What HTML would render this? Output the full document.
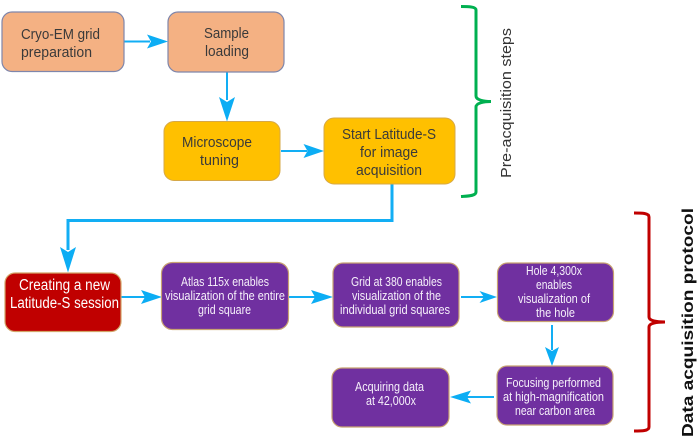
<!DOCTYPE html>
<html>
<head>
<meta charset="utf-8">
<style>
html,body{margin:0;padding:0;background:#fff;width:700px;height:443px;overflow:hidden}
svg{display:block}
text{font-family:"Liberation Sans",sans-serif;font-size:13px;text-anchor:start}
.d{fill:#3a3a3a;font-size:15px}
.w{fill:#f6f0fa;font-size:12.5px}
.l{fill:none;stroke:#12aef4;stroke-width:2}
.h{fill:#0cadf4;stroke:none}
.o{fill:#f4b183;stroke:#7f86ab;stroke-width:1.2}
.a{fill:#ffc000;stroke:#d6a848;stroke-width:1}
.p{fill:#7030a0;stroke:#c8a272;stroke-width:1.2}
</style>
</head>
<body>
<svg width="700" height="443" viewBox="0 0 700 443" xmlns="http://www.w3.org/2000/svg">
<g style="filter:blur(0.35px)">
<!-- connectors -->
<path class="l" d="M124 41.5H150"/>
<path class="h" d="M168 41.5L147 34.500L151 41.5L147 48.500Z"/>
<path class="l" d="M227 72V100"/>
<path class="h" d="M227 121.500L219 97L227 102L235 97Z"/>
<path class="l" d="M281 151H307"/>
<path class="h" d="M324 151L303.500 144L307.500 151L303.500 158Z"/>
<path class="l" style="stroke-width:3" d="M392 184V220.500H68V250"/>
<path class="h" d="M68 272.500L60 247L68 252L76 247Z"/>
<path class="l" d="M118 297H145"/>
<path class="h" d="M162 297L141 290L145 297L141 304Z"/>
<path class="l" d="M289 297H315"/>
<path class="h" d="M333 297L311 290L315 297L311 304Z"/>
<path class="l" d="M461 297H484"/>
<path class="h" d="M497 297L479.500 291L484 297L479.500 303Z"/>
<path class="l" d="M552 325V350"/>
<path class="h" d="M552 366L545 347L552 351L559 347Z"/>
<path class="l" d="M494 397H466"/>
<path class="h" d="M450 397L471 390.500L467 397L471 403.500Z"/>

<!-- boxes -->
<rect class="o" x="2" y="12" width="122" height="59.500" rx="10"/>
<rect class="o" x="168" y="12" width="116" height="60" rx="10"/>
<rect class="a" x="164" y="121.500" width="116" height="59" rx="10"/>
<rect class="a" x="324" y="118" width="131" height="66" rx="10"/>
<rect x="5" y="273" width="116" height="58.500" rx="10" fill="#c00000" stroke="#d2a468" stroke-width="1.2"/>
<rect class="p" x="161.500" y="262.500" width="127" height="67" rx="11"/>
<rect class="p" x="333" y="263" width="126" height="64" rx="10"/>
<rect class="p" x="497.500" y="263" width="116" height="58.500" rx="10"/>
<rect class="p" x="497" y="366" width="116" height="59" rx="10"/>
<rect class="p" x="332" y="368" width="117" height="59" rx="10"/>

<!-- braces -->
<path fill="none" stroke="#00b050" stroke-width="3" d="M461 6.500C468 6.500 476 6.500 476 10V96C476 100 484 101.500 491 101.500C484 101.500 476 103 476 107V192C476 196 468 196 461 196.500"/>
<path fill="none" stroke="#c00000" stroke-width="3" d="M634 213C642 213 649 213 649 217V317C649 321 657 322 665 322C657 322 649 323 649 327V427C649 431 642 431 634 431"/>

<!-- labels -->
<text class="d" x="21" y="39" textLength="79" lengthAdjust="spacingAndGlyphs">Cryo-EM grid</text>
<text class="d" x="21" y="57" textLength="71" lengthAdjust="spacingAndGlyphs">preparation</text>
<text class="d" x="204" y="38" textLength="45" lengthAdjust="spacingAndGlyphs">Sample</text>
<text class="d" x="205" y="56" textLength="44" lengthAdjust="spacingAndGlyphs">loading</text>
<text class="d" x="182" y="147" textLength="70" lengthAdjust="spacingAndGlyphs">Microscope</text>
<text class="d" x="200" y="165" textLength="39" lengthAdjust="spacingAndGlyphs">tuning</text>
<text class="d" x="342" y="139" textLength="94" lengthAdjust="spacingAndGlyphs">Start Latitude-S</text>
<text class="d" x="360" y="157" textLength="58" lengthAdjust="spacingAndGlyphs">for image</text>
<text class="d" x="356" y="175" textLength="66" lengthAdjust="spacingAndGlyphs">acquisition</text>

<text x="19" y="290" fill="#fff" style="font-size:15.500px" textLength="91" lengthAdjust="spacingAndGlyphs">Creating a new</text>
<text x="10" y="308" fill="#fff" style="font-size:15.500px" textLength="109" lengthAdjust="spacingAndGlyphs">Latitude-S session</text>

<text class="w" x="181" y="286" textLength="88" lengthAdjust="spacingAndGlyphs">Atlas 115x enables</text>
<text class="w" x="165" y="300" textLength="120" lengthAdjust="spacingAndGlyphs">visualization of the entire</text>
<text class="w" x="198" y="314" textLength="53" lengthAdjust="spacingAndGlyphs">grid square</text>

<text class="w" x="351" y="286" textLength="91" lengthAdjust="spacingAndGlyphs">Grid at 380 enables</text>
<text class="w" x="352" y="300" textLength="89" lengthAdjust="spacingAndGlyphs">visualization of the</text>
<text class="w" x="340" y="314" textLength="110" lengthAdjust="spacingAndGlyphs">individual grid squares</text>

<text class="w" x="526" y="275" textLength="56" lengthAdjust="spacingAndGlyphs">Hole 4,300x</text>
<text class="w" x="536" y="289" textLength="36" lengthAdjust="spacingAndGlyphs">enables</text>
<text class="w" x="518" y="303" textLength="72" lengthAdjust="spacingAndGlyphs">visualization of</text>
<text class="w" x="536" y="317" textLength="39" lengthAdjust="spacingAndGlyphs">the hole</text>

<text class="w" x="506" y="387" textLength="95" lengthAdjust="spacingAndGlyphs">Focusing performed</text>
<text class="w" x="503" y="401" textLength="101" lengthAdjust="spacingAndGlyphs">at high-magnification</text>
<text class="w" x="515" y="415" textLength="80" lengthAdjust="spacingAndGlyphs">near carbon area</text>

<text class="w" x="355" y="391" textLength="69" lengthAdjust="spacingAndGlyphs">Acquiring data</text>
<text class="w" x="366" y="405" textLength="50" lengthAdjust="spacingAndGlyphs">at 42,000x</text>

<text transform="translate(511 178) rotate(-90)" style="font-size:14.500px;fill:#333" textLength="150" lengthAdjust="spacingAndGlyphs">Pre-acquisition steps</text>
<text transform="translate(693 437) rotate(-90)" style="font-size:16px;font-weight:bold;fill:#111" textLength="229" lengthAdjust="spacingAndGlyphs">Data acquisition protocol</text>
</g>
</svg>
</body>
</html>
